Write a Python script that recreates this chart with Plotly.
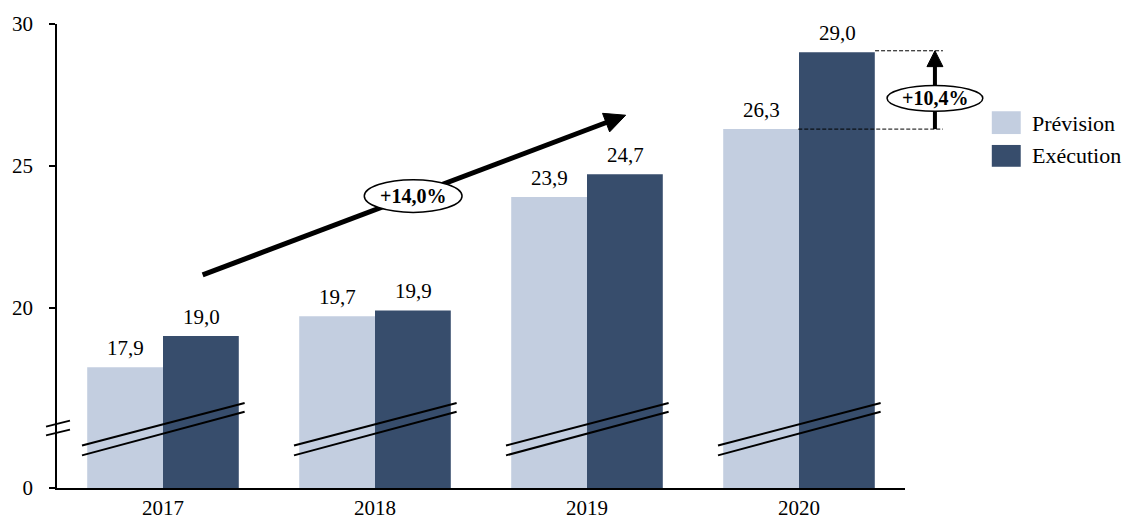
import math
import plotly.graph_objects as go

# Data
years = ["2017", "2018", "2019", "2020"]
prevision = [17.9, 19.7, 23.9, 26.3]
execution = [19.0, 19.9, 24.7, 29.0]

# broken axis: the "0" tick sits at the bottom of the visible range
axis_floor = 13.64
tick_vals = [axis_floor, 20, 25, 30]
tick_text = ["0", "20", "25", "30"]

growth_label = "+14,0%"
gap_label = "+10,4%"

LIGHT = "#C3CEE0"
DARK = "#374D6C"
FONT = "Liberation Serif, Times New Roman, serif"

# plot area in pixels, used to place the hand-drawn decorations
W, H = 1135, 532
L, R, T, B = 55, 905, 20, 488


def px(x):
    return (x - L) / (R - L)


def py(y):
    return (B - y) / (B - T)


def fmt(v):
    return f"{v:.1f}".replace(".", ",")


fig = go.Figure()
fig.add_trace(go.Bar(x=years, y=prevision, name="Prévision", marker_color=LIGHT, marker_line_width=0))
fig.add_trace(go.Bar(x=years, y=execution, name="Exécution", marker_color=DARK, marker_line_width=0))

fig.update_layout(
    width=W, height=H,
    margin=dict(l=L, r=W - R, t=T, b=H - B, pad=0),
    barmode="group",
    bargap=0.285,
    bargroupgap=0,
    showlegend=False,
    plot_bgcolor="white",
    paper_bgcolor="white",
    font=dict(family=FONT, size=21, color="black"),
)
fig.update_xaxes(type="category", range=[-0.5, 3.5], showline=True, linecolor="black",
                 linewidth=1.5, ticks="", showgrid=False)
fig.update_yaxes(range=[axis_floor, 30], tickvals=tick_vals, ticktext=tick_text,
                 showline=True, linecolor="black", linewidth=1.5,
                 ticks="outside", ticklen=6, tickcolor="black", tickwidth=1.5,
                 ticklabelstandoff=12, showgrid=False, zeroline=False)

# Value labels above each bar
for i in range(len(years)):
    for vals, shift in ((prevision, -38), (execution, 38)):
        fig.add_annotation(x=i, y=vals[i], text=fmt(vals[i]), showarrow=False,
                           xshift=shift, xanchor="center", yanchor="bottom", yshift=5,
                           font=dict(size=21))

shapes = []

# Break marks across the bars
for i in range(len(years)):
    for y0, y1 in ((15.14, 16.64), (14.79, 16.33)):
        shapes.append(dict(type="line", xref="x", yref="y", x0=i - 0.382, x1=i + 0.385,
                           y0=y0, y1=y1, line=dict(color="black", width=2)))

# Break marks on the y axis
for y0, y1 in ((426, 420), (435, 429)):
    shapes.append(dict(type="line", xref="paper", yref="paper", x0=px(44), x1=px(68),
                       y0=py(y0), y1=py(y1), line=dict(color="black", width=1.8)))


def arrow(x0, y0, x1, y1, width, head_len, head_half):
    # line plus a triangular head, all in pixel space
    dx, dy = x1 - x0, y1 - y0
    n = math.hypot(dx, dy)
    ux, uy = dx / n, dy / n
    bx, by = x1 - head_len * ux, y1 - head_len * uy
    nx, ny = -uy, ux
    out = [dict(type="line", xref="paper", yref="paper", x0=px(x0), y0=py(y0),
                x1=px(bx + ux), y1=py(by + uy), line=dict(color="black", width=width))]
    pts = [(x1, y1), (bx + head_half * nx, by + head_half * ny), (bx - head_half * nx, by - head_half * ny)]
    path = "M " + " L ".join(f"{px(a):.5f},{py(b):.5f}" for a, b in pts) + " Z"
    out.append(dict(type="path", xref="paper", yref="paper", path=path,
                    fillcolor="black", line=dict(color="black", width=1)))
    return out


# Growth arrow 2017 -> 2019
shapes += arrow(201, 273, 625, 112, 5, 21, 10)
shapes.append(dict(type="circle", xref="paper", yref="paper", x0=px(363), x1=px(461),
                   y0=py(210), y1=py(177), fillcolor="white", line=dict(color="black", width=1.5)))

# Gap between forecast and execution in 2020
shapes.append(dict(type="line", xref="paper", yref="paper", x0=px(875), x1=px(943),
                   y0=py(47), y1=py(47), line=dict(color="black", width=1, dash="4px,2px")))
shapes.append(dict(type="line", xref="paper", yref="paper", x0=px(798), x1=px(943),
                   y0=py(126), y1=py(126), line=dict(color="black", width=1, dash="4px,2px")))
shapes += arrow(935, 126, 935, 47, 4, 16, 8)
shapes.append(dict(type="circle", xref="paper", yref="paper", x0=px(887), x1=px(983),
                   y0=py(108), y1=py(82), fillcolor="white", line=dict(color="black", width=1.5)))

# Legend drawn by hand
for (y0, y1), color in (((108, 131), LIGHT), ((142, 164), DARK)):
    shapes.append(dict(type="rect", xref="paper", yref="paper", x0=px(992), x1=px(1021),
                       y0=py(y1), y1=py(y0), fillcolor=color, line=dict(width=0)))

fig.update_layout(shapes=shapes)

fig.add_annotation(xref="paper", yref="paper", x=px(412), y=py(193.5), text=f"<b>{growth_label}</b>",
                   showarrow=False, xanchor="center", yanchor="middle", font=dict(size=20))
fig.add_annotation(xref="paper", yref="paper", x=px(935), y=py(95), text=f"<b>{gap_label}</b>",
                   showarrow=False, xanchor="center", yanchor="middle", font=dict(size=20))
fig.add_annotation(xref="paper", yref="paper", x=px(1030), y=py(120), text="Prévision",
                   showarrow=False, xanchor="left", yanchor="middle", font=dict(size=22))
fig.add_annotation(xref="paper", yref="paper", x=px(1030), y=py(153), text="Exécution",
                   showarrow=False, xanchor="left", yanchor="middle", font=dict(size=22))

# page body has a default margin; drop it so the figure sits at the window origin
fig.write_html("out.html", config={"displayModeBar": False},
               post_script="document.body.style.margin='0';")
